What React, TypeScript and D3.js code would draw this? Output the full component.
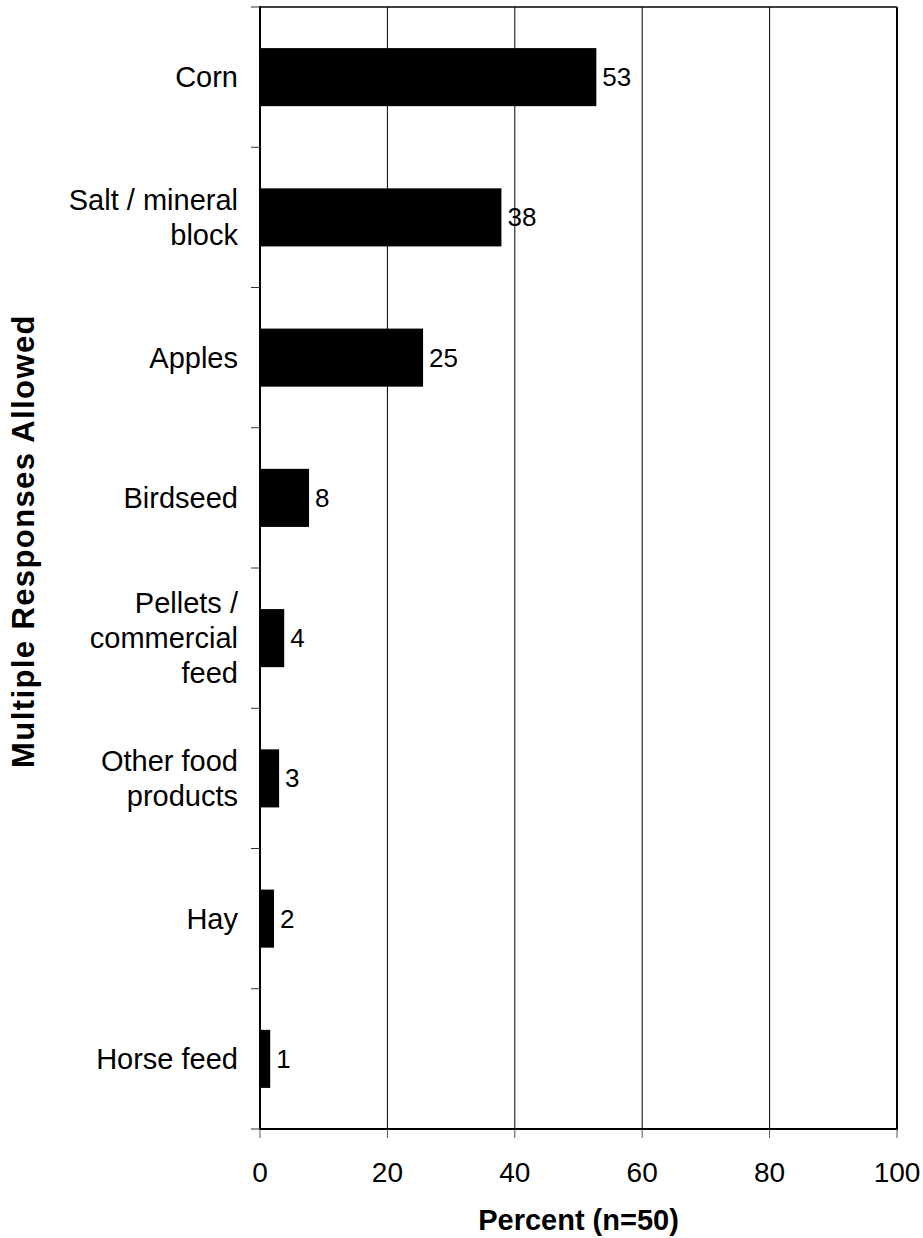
import React from "react";
import * as d3 from "d3";

const categories: string[][] = [
  ["Corn"],
  ["Salt / mineral", "block"],
  ["Apples"],
  ["Birdseed"],
  ["Pellets /", "commercial", "feed"],
  ["Other food", "products"],
  ["Hay"],
  ["Horse feed"],
];
const values: number[] = [52.8, 37.9, 25.6, 7.7, 3.8, 3.0, 2.2, 1.6];
const valueLabels: string[] = ["53", "38", "25", "8", "4", "3", "2", "1"];
const xTicks: number[] = [0, 20, 40, 60, 80, 100];
const xTitle = "Percent (n=50)";
const yTitle = "Multiple Responses Allowed";

const W = 923;
const H = 1238;
const M = { left: 260, right: 26, top: 7, bottom: 109 };
const FONT = "'Liberation Sans', Arial, Helvetica, sans-serif";

export default function App() {
  const x = d3.scaleLinear().domain([0, 100]).range([M.left, W - M.right]);
  const ids = categories.map((_, i) => String(i));
  const y = d3
    .scaleBand<string>()
    .domain(ids)
    .range([M.top, H - M.bottom])
    .paddingInner(0.586)
    .paddingOuter(0.293);
  const step = y.step();
  const y0 = M.top;
  const y1 = H - M.bottom;
  const x0 = x(0);
  const x1 = x(100);
  const lineH = 35;

  return (
    <svg
      width={W}
      height={H}
      style={{ position: "absolute", left: 0, top: 0, background: "#fff" }}
      fontFamily={FONT}
    >
      <rect x={0} y={0} width={W} height={H} fill="#fff" />
      {/* gridlines */}
      {xTicks.slice(1, -1).map((t) => (
        <line key={"g" + t} x1={x(t)} x2={x(t)} y1={y0} y2={y1} stroke="#000" strokeWidth={1} />
      ))}
      {/* bars */}
      {values.map((v, i) => (
        <rect key={"b" + i} x={x0} y={y(ids[i])!} width={x(v) - x0} height={y.bandwidth()} fill="#000" />
      ))}
      {/* value labels */}
      {values.map((v, i) => (
        <text
          key={"v" + i}
          x={x(v) + 6}
          y={y(ids[i])! + y.bandwidth() / 2}
          dy="0.35em"
          fontSize={26}
          fill="#000"
        >
          {valueLabels[i]}
        </text>
      ))}
      {/* frame */}
      <line x1={x0} x2={x1} y1={y0} y2={y0} stroke="#000" strokeWidth={1.5} />
      <line x1={x1} x2={x1} y1={y0} y2={y1} stroke="#000" strokeWidth={2} />
      <line x1={x0} x2={x0} y1={y0 - 1} y2={y1 + 1} stroke="#000" strokeWidth={2} />
      <line x1={x0 - 1} x2={x1 + 1} y1={y1} y2={y1} stroke="#000" strokeWidth={2} />
      {/* left ticks */}
      {d3.range(categories.length + 1).map((k) => (
        <line key={"lt" + k} x1={x0 - 9} x2={x0} y1={y0 + k * step} y2={y0 + k * step} stroke="#333" strokeWidth={1} />
      ))}
      {/* bottom ticks */}
      {xTicks.map((t) => (
        <g key={"bt" + t}>
          <line x1={x(t)} x2={x(t)} y1={y1} y2={y1 + 9} stroke="#555" strokeWidth={1} />
          <text x={x(t)} y={y1 + 53} textAnchor="middle" fontSize={28} fill="#000">
            {t}
          </text>
        </g>
      ))}
      {/* category labels */}
      {categories.map((lines, i) => {
        const cy = y(ids[i])! + y.bandwidth() / 2;
        const startY = cy - ((lines.length - 1) * lineH) / 2;
        return (
          <text key={"c" + i} textAnchor="end" fontSize={29} fill="#000">
            {lines.map((ln, j) => (
              <tspan key={j} x={238} y={startY + j * lineH} dy="0.35em">
                {ln}
              </tspan>
            ))}
          </text>
        );
      })}
      {/* axis titles */}
      <text x={(x0 + x1) / 2} y={1230} textAnchor="middle" fontSize={29} fontWeight="bold" fill="#000">
        {xTitle}
      </text>
      <text
        transform={`translate(34, 541) rotate(-90)`}
        textAnchor="middle"
        fontSize={31}
        fontWeight="bold"
        letterSpacing={1.4}
        fill="#000"
      >
        {yTitle}
      </text>
    </svg>
  );
}
